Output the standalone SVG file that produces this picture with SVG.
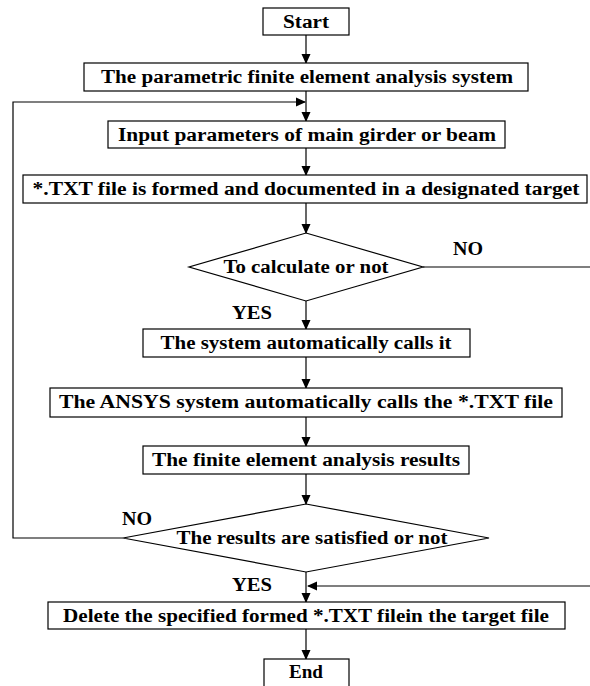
<svg xmlns="http://www.w3.org/2000/svg" width="590" height="686" viewBox="0 0 590 686">
<style>
.b{fill:#fff;stroke:#000;stroke-width:1.2}
.t{font-weight:bold;font-size:18px;fill:#000;text-anchor:middle}
.l{fill:none;stroke:#000;stroke-width:1.2}
</style>
<defs>
<marker id="a" markerWidth="10" markerHeight="10" refX="9" refY="5" orient="auto" markerUnits="userSpaceOnUse">
<path d="M0,0.5 L10,5 L0,9.5 z" fill="#000"/>
</marker>
</defs>
<rect width="590" height="686" fill="#fff"/>
<g font-family="Liberation Serif, Times New Roman, DejaVu Serif, serif">
<g id="connectors">
<line class="l" x1="306" y1="35" x2="306" y2="63" marker-end="url(#a)"/>
<line class="l" x1="306" y1="91" x2="306" y2="121" marker-end="url(#a)"/>
<line class="l" x1="306" y1="148" x2="306" y2="175" marker-end="url(#a)"/>
<line class="l" x1="306" y1="203" x2="306" y2="233" marker-end="url(#a)"/>
<line class="l" x1="306" y1="301" x2="306" y2="329" marker-end="url(#a)"/>
<line class="l" x1="306" y1="357" x2="306" y2="388" marker-end="url(#a)"/>
<line class="l" x1="306" y1="417" x2="306" y2="446" marker-end="url(#a)"/>
<line class="l" x1="306" y1="474" x2="306" y2="504" marker-end="url(#a)"/>
<line class="l" x1="306" y1="572" x2="306" y2="602" marker-end="url(#a)"/>
<line class="l" x1="306" y1="629" x2="306" y2="659" marker-end="url(#a)"/>
<polyline class="l" points="123,538 13,538 13,102 305,102" marker-end="url(#a)"/>
<line class="l" x1="423" y1="267" x2="590" y2="267"/>
<line class="l" x1="590" y1="586" x2="308" y2="586" marker-end="url(#a)"/>
<text class="t" x="468" y="255" textLength="30" lengthAdjust="spacingAndGlyphs">NO</text>
<text class="t" x="252" y="319" textLength="40" lengthAdjust="spacingAndGlyphs">YES</text>
<text class="t" x="137" y="525" textLength="30" lengthAdjust="spacingAndGlyphs">NO</text>
<text class="t" x="252" y="591" textLength="40" lengthAdjust="spacingAndGlyphs">YES</text>
</g>
<g id="start"><rect class="b" x="263" y="8" width="86" height="27"/><text class="t" x="306" y="28" textLength="46" lengthAdjust="spacingAndGlyphs">Start</text></g>
<g id="system"><rect class="b" x="84" y="63" width="444" height="28"/><text class="t" x="307" y="83" textLength="412" lengthAdjust="spacingAndGlyphs">The parametric finite element analysis system</text></g>
<g id="input"><rect class="b" x="108" y="121" width="397" height="27"/><text class="t" x="307" y="141" textLength="378" lengthAdjust="spacingAndGlyphs">Input parameters of main girder or beam</text></g>
<g id="txtfile"><rect class="b" x="23" y="175" width="564" height="28"/><text class="t" x="306" y="195" textLength="547" lengthAdjust="spacingAndGlyphs">*.TXT file is formed and documented in a designated target</text></g>
<g id="calc"><polygon class="b" points="306,233 423,267 306,301 189,267"/><text class="t" x="306" y="273" textLength="165" lengthAdjust="spacingAndGlyphs">To calculate or not</text></g>
<g id="autocall"><rect class="b" x="143" y="329" width="327" height="28"/><text class="t" x="306" y="349" textLength="291" lengthAdjust="spacingAndGlyphs">The system automatically calls it</text></g>
<g id="ansys"><rect class="b" x="50" y="388" width="512" height="29"/><text class="t" x="306" y="408" textLength="494" lengthAdjust="spacingAndGlyphs">The ANSYS system automatically calls the *.TXT file</text></g>
<g id="results"><rect class="b" x="143" y="446" width="326" height="28"/><text class="t" x="306" y="466" textLength="308" lengthAdjust="spacingAndGlyphs">The  finite element analysis results</text></g>
<g id="satisfied"><polygon class="b" points="306,504 489,538 306,572 123,538"/><text class="t" x="312" y="544" textLength="271" lengthAdjust="spacingAndGlyphs">The results are satisfied or not</text></g>
<g id="delete"><rect class="b" x="48" y="602" width="517" height="27"/><text class="t" x="306" y="622" textLength="486" lengthAdjust="spacingAndGlyphs">Delete the specified formed *.TXT filein the target file</text></g>
<g id="end"><rect class="b" x="264" y="659" width="85" height="30"/><text class="t" x="306" y="678" textLength="34" lengthAdjust="spacingAndGlyphs">End</text></g>
</g>
</svg>
